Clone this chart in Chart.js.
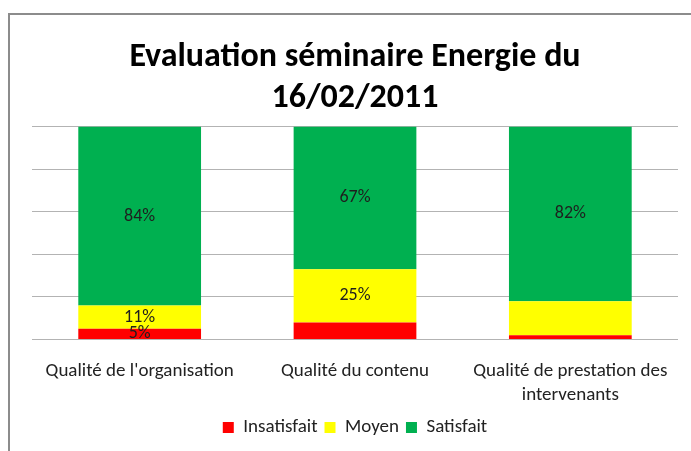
<!DOCTYPE html>
<html>
<head>
<meta charset="utf-8">
<script src="https://cdn.jsdelivr.net/npm/chart.js@4/dist/chart.umd.min.js"></script>
<style>
  html, body { margin: 0; padding: 0; background: #fff; }
  #frame {
    position: absolute; left: 8px; top: 13px; width: 720px; height: 460px;
    border-left: 2px solid #8c8c8c; border-top: 2px solid #8c8c8c;
  }
  #wrap { position: absolute; left: 0; top: 0; width: 691px; height: 451px; }
</style>
</head>
<body>
<div id="frame"></div>
<div id="wrap"><canvas id="chart" width="691" height="451"></canvas></div>
<script>
// Data
const categories = [
    "Qualité de l'organisation",
    "Qualité du contenu",
    ["Qualité de prestation des", "intervenants"],
];
const insatisfait = [5, 8, 2];
const moyen = [11, 25, 16];
const satisfait = [84, 67, 82];
// which segments show a value label (true = shown)
const showInsatisfait = [true, false, false];
const showMoyen = [true, true, false];
const showSatisfait = [true, true, true];

const fontFamily = "Carlito, 'Liberation Sans Narrow', 'DejaVu Sans Condensed', sans-serif";

// Plugin drawing percentage labels in the middle of each segment
const segmentLabels = {
    id: "segmentLabels",
    afterDatasetsDraw(chart) {
        const ctx = chart.ctx;
        const flags = [showInsatisfait, showMoyen, showSatisfait];
        ctx.save();
        ctx.font = "18px " + fontFamily;
        ctx.fillStyle = "#1e1e1e";
        ctx.textAlign = "center";
        ctx.textBaseline = "middle";
        chart.data.datasets.forEach((ds, i) => {
            const meta = chart.getDatasetMeta(i);
            meta.data.forEach((bar, j) => {
                if (!flags[i][j]) return;
                const y = (bar.y + bar.base) / 2;
                ctx.fillText(ds.data[j] + "%", bar.x, y);
            });
        });
        ctx.restore();
    },
};

new Chart(document.getElementById("chart"), {
    type: "bar",
    data: {
        labels: categories,
        datasets: [
            { label: "Insatisfait", data: insatisfait, backgroundColor: "#ff0000" },
            { label: "Moyen", data: moyen, backgroundColor: "#ffff00" },
            { label: "Satisfait", data: satisfait, backgroundColor: "#00b050" },
        ],
    },
    options: {
        responsive: false,
        animation: false,
        layout: { padding: { left: 32, right: 13, top: 37, bottom: 4 } },
        datasets: { bar: { categoryPercentage: 1, barPercentage: 0.57 } },
        plugins: {
            title: {
                display: true,
                text: ["Evaluation séminaire Energie du", "16/02/2011"],
                font: { family: fontFamily, size: 34, weight: "bold" },
                color: "#000",
                lineHeight: 1.24,
                padding: { top: 0, bottom: 8 },
            },
            legend: {
                position: "bottom",
                labels: {
                    boxWidth: 11,
                    boxHeight: 11,
                    font: { family: fontFamily, size: 19 },
                    color: "#222",
                    padding: 7,
                },
            },
            tooltip: { enabled: false },
        },
        scales: {
            x: {
                stacked: true,
                grid: { display: false },
                border: { display: false },
                ticks: {
                    font: { family: fontFamily, size: 19, lineHeight: 1.25 },
                    color: "#222",
                    maxRotation: 0,
                    padding: 12,
                },
                afterFit(scale) {
                    scale.height -= 8;
                },
            },
            y: {
                stacked: true,
                min: 0,
                max: 100,
                ticks: { display: false, stepSize: 20 },
                grid: { color: "#b3b3b3", lineWidth: 1, drawTicks: false },
                border: { display: false },
            },
        },
    },
    plugins: [segmentLabels],
});
</script>
</body>
</html>
